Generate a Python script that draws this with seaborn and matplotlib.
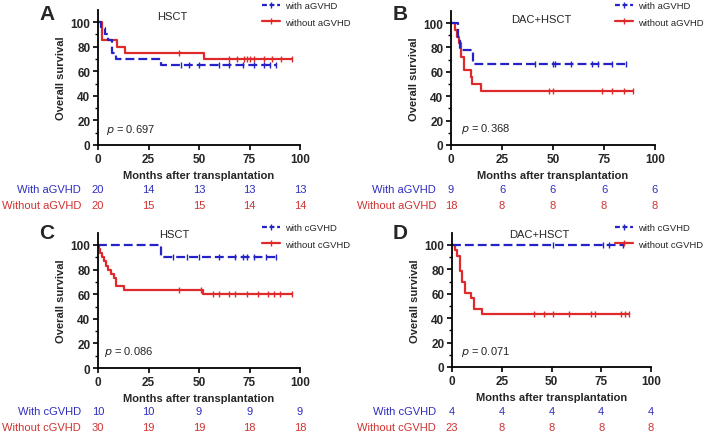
import numpy as np
import pandas as pd
import matplotlib
matplotlib.use("Agg")
import matplotlib.pyplot as plt
import seaborn as sns
from matplotlib.lines import Line2D
from matplotlib.transforms import blended_transform_factory

# ---------------- data ----------------
risk_times = [0, 25, 50, 75, 100]

# Panel A: HSCT, aGVHD
a_with_t = [0, 1.5, 3.5, 5, 7, 9, 31, 88]
a_with_s = [100, 95, 90, 85, 75, 70, 65, 65]
a_with_c = [41, 45, 50, 60, 65, 72, 77, 82, 85, 88]
a_wo_t = [0, 1.8, 9.2, 13.4, 52.5, 96]
a_wo_s = [100, 85, 80, 75, 70, 70]
a_wo_c = [40, 65, 69, 72.5, 73.6, 75, 77, 82, 86, 90.6, 96]
a_risk_with = [20, 14, 13, 13, 13]
a_risk_wo = [20, 15, 15, 14, 14]

# Panel B: DAC+HSCT, aGVHD
b_with_t = [0, 3.6, 4.5, 11, 87]
b_with_s = [100, 88.9, 77.8, 66.7, 66.7]
b_with_c = [41, 50, 51, 59, 69, 72, 79, 86]
b_wo_t = [0, 2, 3, 4, 5, 6.5, 9.8, 10.5, 14.7, 89]
b_wo_s = [100, 94.4, 88.9, 83.3, 72.2, 61.1, 55.6, 50, 44.4, 44.4]
b_wo_c = [48, 50, 74, 79, 85, 89]
b_risk_with = [9, 6, 6, 6, 6]
b_risk_wo = [18, 8, 8, 8, 8]

# Panel C: HSCT, cGVHD
c_with_t = [0, 31, 88]
c_with_s = [100, 90, 90]
c_with_c = [37, 44, 50, 60, 68, 72, 74, 77, 83, 88]
c_wo_t = [0, 0.6, 1.2, 2, 3, 4, 5, 6.5, 8, 9, 13, 52, 96]
c_wo_s = [100, 96.7, 93.3, 90, 86.7, 83.3, 80, 76.7, 73.3, 66.7, 63.3, 60, 60]
c_wo_c = [40, 51, 57, 60, 65, 68, 74, 79, 84, 87, 90, 96]
c_risk_with = [10, 10, 9, 9, 9]
c_risk_wo = [30, 19, 19, 18, 18]

# Panel D: DAC+HSCT, cGVHD
d_with_t = [0, 86]
d_with_s = [100, 100]
d_with_c = [51, 76, 79, 86]
d_wo_t = [0, 1.3, 2.5, 4, 5, 6.7, 9.7, 10.9, 15, 89]
d_wo_s = [100, 95.7, 91.3, 78.3, 69.6, 60.9, 56.5, 47.8, 43.5, 43.5]
d_wo_c = [41, 46, 51, 59, 70, 72, 85, 87, 89]
d_risk_with = [4, 4, 4, 4, 4]
d_risk_wo = [23, 8, 8, 8, 8]

panels = [
    dict(letter="A", title="HSCT", p="0.697", g="aGVHD",
         wt=a_with_t, ws=a_with_s, wc=a_with_c, ot=a_wo_t, os=a_wo_s, oc=a_wo_c,
         rw=a_risk_with, ro=a_risk_wo),
    dict(letter="B", title="DAC+HSCT", p="0.368", g="aGVHD",
         wt=b_with_t, ws=b_with_s, wc=b_with_c, ot=b_wo_t, os=b_wo_s, oc=b_wo_c,
         rw=b_risk_with, ro=b_risk_wo),
    dict(letter="C", title="HSCT", p="0.086", g="cGVHD",
         wt=c_with_t, ws=c_with_s, wc=c_with_c, ot=c_wo_t, os=c_wo_s, oc=c_wo_c,
         rw=c_risk_with, ro=c_risk_wo),
    dict(letter="D", title="DAC+HSCT", p="0.071", g="cGVHD",
         wt=d_with_t, ws=d_with_s, wc=d_with_c, ot=d_wo_t, os=d_wo_s, oc=d_wo_c,
         rw=d_risk_with, ro=d_risk_wo),
]

# ---------------- style ----------------
sns.set_theme(style="ticks")
plt.rcParams["font.family"] = ["Liberation Sans", "DejaVu Sans"]

BLUE = "#2323C8"
RED = "#DE2A2A"
TXT_BLUE = "#2E2EC0"
TXT_RED = "#D03232"

W, H = 709, 435
fig = plt.figure(figsize=(W / 100, H / 100), dpi=100)

# axes rectangles in pixels: (x0 px, x100 px, y0 px, y100 px)
rects = [(98, 300, 146, 23), (451, 655, 146, 24), (98, 300, 369, 246), (452, 651, 368, 246)]
legend_pos = [(262, 2), (615, 2), (262, 224), (615, 224)]
letter_pos = [(47, 14), (400, 14), (47, 234), (400, 234)]
title_x = [0.37, 0.44, 0.376, 0.44]
title_y = [0.95, 0.94, 0.99, 0.99]
p_pos = [(4, 13), (5, 14), (3, 14), (4.5, 13)]
risk_rows = [(190, 206), (190, 206), (412, 428), (412, 428)]


def surv_at(times, surv, ct):
    idx = np.searchsorted(np.asarray(times), np.asarray(ct), side="right") - 1
    return np.asarray(surv)[idx]


for i, pn in enumerate(panels):
    x0, x100, y0, y100 = rects[i]
    ppm = (y0 - y100) / 100.0
    ytop = y0 - 110 * ppm
    ax = fig.add_axes([x0 / W, 1 - y0 / H, (x100 - x0) / W, (y0 - ytop) / H])

    # survival curves
    sns.lineplot(x=pn["ot"], y=pn["os"], ax=ax, color=RED, lw=1.6,
                 drawstyle="steps-post", estimator=None, sort=False, legend=False)
    sns.lineplot(x=pn["wt"], y=pn["ws"], ax=ax, color=BLUE, lw=1.6,
                 drawstyle="steps-post", estimator=None, sort=False, legend=False,
                 dashes=(4, 1.8))
    # censor marks
    sns.scatterplot(x=pn["oc"], y=surv_at(pn["ot"], pn["os"], pn["oc"]), ax=ax,
                    marker="|", s=14, color=RED, linewidth=1.0, legend=False, zorder=4)
    sns.scatterplot(x=pn["wc"], y=surv_at(pn["wt"], pn["ws"], pn["wc"]), ax=ax,
                    marker="|", s=14, color=BLUE, linewidth=1.0, legend=False, zorder=4)

    ax.set_xlim(0, 100)
    ax.set_ylim(0, 110)
    ax.set_xticks([0, 25, 50, 75, 100])
    ax.set_yticks([0, 20, 40, 60, 80, 100])
    ax.set_yticks([10, 30, 50, 70, 90], minor=True)
    ax.tick_params(axis="both", which="major", length=3.5, width=1.2, labelsize=8.5,
                   pad=2, color="black")
    ax.tick_params(axis="y", which="minor", length=2, width=1.0, color="black")
    for lab in ax.get_xticklabels() + ax.get_yticklabels():
        lab.set_fontweight("bold")
    for sp in ["top", "right"]:
        ax.spines[sp].set_visible(False)
    for sp in ["left", "bottom"]:
        ax.spines[sp].set_linewidth(1.3)
        ax.spines[sp].set_color("black")
    ax.set_xlabel("Months after transplantation", fontsize=8, fontweight="bold", labelpad=4)
    ax.set_ylabel("Overall survival", fontsize=8, fontweight="bold", labelpad=3)
    for ln in ax.lines:
        ln.set_clip_on(False)

    ax.text(title_x[i], title_y[i], pn["title"], transform=ax.transAxes,
            ha="center", va="center", fontsize=8)
    ax.text(p_pos[i][0], p_pos[i][1], r"$\it{p}$ = " + pn["p"], fontsize=8,
            ha="left", va="center")

    # risk table
    tr = blended_transform_factory(ax.transData, ax.transAxes)
    h_ax = (y0 - ytop)
    ry1, ry2 = risk_rows[i]
    r1 = -(ry1 - y0) / h_ax
    r2 = -(ry2 - y0) / h_ax
    lab_x = (81 if i in (0, 2) else 436) / W
    fig.text(lab_x, 1 - ry1 / H, "With " + pn["g"], ha="right",
             va="center", fontsize=8, color=TXT_BLUE)
    fig.text(lab_x, 1 - ry2 / H, "Without " + pn["g"], ha="right",
             va="center", fontsize=8, color=TXT_RED)
    for t, n1, n2 in zip(risk_times, pn["rw"], pn["ro"]):
        ax.text(t, r1, str(n1), transform=tr, ha="center", va="center",
                fontsize=8, color=TXT_BLUE, clip_on=False)
        ax.text(t, r2, str(n2), transform=tr, ha="center", va="center",
                fontsize=8, color=TXT_RED, clip_on=False)

    # legend
    handles = [
        Line2D([], [], color=BLUE, lw=1.6, dashes=(2.2, 1.2), marker="|",
               markersize=4, markeredgewidth=1.0),
        Line2D([], [], color=RED, lw=1.6, marker="|", markersize=4, markeredgewidth=1.0),
    ]
    lx, ly = legend_pos[i]
    fig.legend(handles, ["with " + pn["g"], "without " + pn["g"]], loc="upper left",
               bbox_to_anchor=(lx / W, 1 - ly / H), frameon=False, fontsize=6.8,
               borderpad=0, borderaxespad=0, handlelength=1.9, handletextpad=0.5,
               labelspacing=0.8, numpoints=1)

    fig.text(letter_pos[i][0] / W, 1 - letter_pos[i][1] / H, pn["letter"],
             ha="center", va="center", fontsize=15, fontweight="bold")

fig.savefig("out.png", dpi=100)
